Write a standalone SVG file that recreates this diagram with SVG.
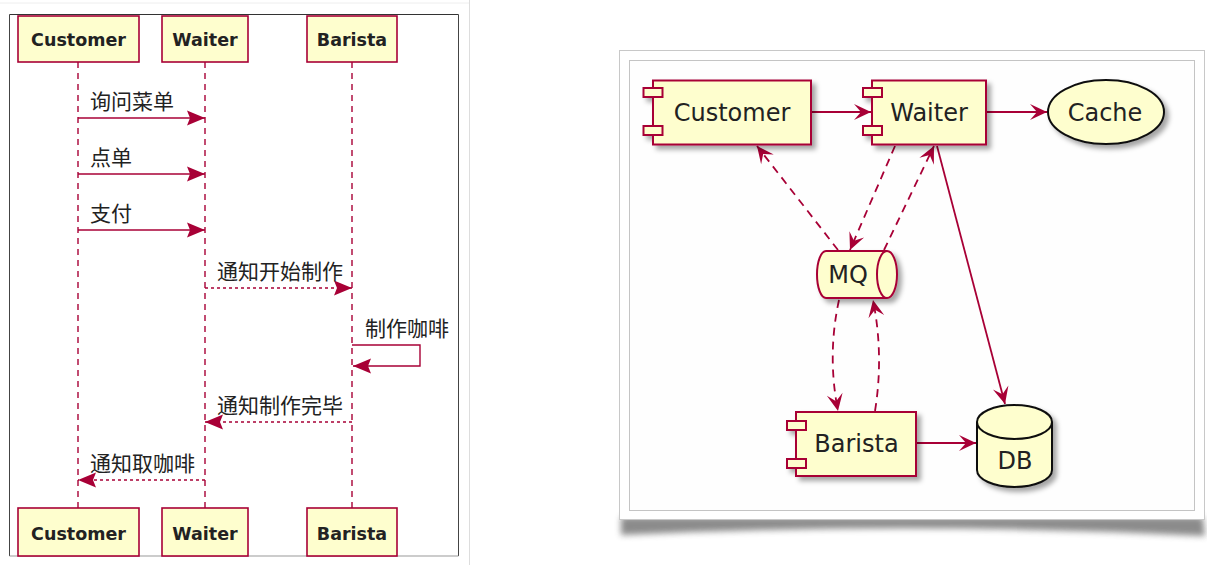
<svg xmlns="http://www.w3.org/2000/svg" width="1207" height="565" viewBox="0 0 1207 565">
  <defs>
    <style>
      .part { fill: #FEFECE; stroke: #A80036; stroke-width: 1.6; }
      .plabel { font-family: "DejaVu Sans", "Liberation Sans", sans-serif; font-weight: bold; font-size: 17.5px; fill: #222; text-anchor: middle; }
      .life { stroke: #A80036; stroke-width: 1.4; stroke-dasharray: 6 5; fill: none; }
      .msg { stroke: #A80036; stroke-width: 1.4; fill: none; }
      .msg.dash { stroke-dasharray: 3 3; }
      .mlabel { font-family: "Noto Sans CJK SC", "Noto Sans CJK JP", sans-serif; font-size: 21px; fill: #222; }
      .comp { fill: #FEFECE; stroke: #A80036; stroke-width: 2; }
      .blk { fill: #FEFECE; stroke: #111; stroke-width: 2; }
      .nlabel { font-family: "DejaVu Sans", "Liberation Sans", sans-serif; font-size: 24px; fill: #222; text-anchor: middle; }
      .edge { stroke: #A80036; stroke-width: 1.8; fill: none; }
      .edge.dash { stroke-dasharray: 8 6; }
    </style>
    <marker id="seqHead" viewBox="-19 -9 20 18" refX="0" refY="0" markerWidth="20" markerHeight="18" markerUnits="userSpaceOnUse" orient="auto">
      <path d="M0,0 L-18,-7.5 L-15,0 L-18,7.5 Z" fill="#A80036"/>
    </marker>
    <marker id="compHead" viewBox="-18 -9 19 18" refX="0" refY="0" markerWidth="19" markerHeight="18" markerUnits="userSpaceOnUse" orient="auto">
      <path d="M0,0 L-17,-8 L-10,0 L-17,8 Z" fill="#A80036"/>
    </marker>
    <filter id="shadow" x="-20%" y="-20%" width="150%" height="160%">
      <feDropShadow dx="4" dy="4" stdDeviation="2.5" flood-color="#000" flood-opacity="0.35"/>
    </filter>
    <filter id="blur" x="-10%" y="-100%" width="120%" height="300%">
      <feGaussianBlur stdDeviation="3"/>
    </filter>
  </defs>

  <rect x="0" y="0" width="1207" height="565" fill="#ffffff"/>

  <!-- ===== Left panel: sequence diagram ===== -->
  <g id="left-frame">
    <line x1="0" y1="3" x2="470" y2="3" stroke="#eeeeee" stroke-width="1"/>
    <line x1="469.5" y1="0" x2="469.5" y2="565" stroke="#dddddd" stroke-width="1"/>
    <rect x="9.5" y="14.5" width="449" height="541.5" fill="#ffffff" stroke="none"/>
    <line x1="9.5" y1="14.5" x2="458.5" y2="14.5" stroke="#333" stroke-width="1"/>
    <line x1="9.5" y1="14.5" x2="9.5" y2="556" stroke="#444" stroke-width="1"/>
    <line x1="458.5" y1="14.5" x2="458.5" y2="556" stroke="#444" stroke-width="1"/>
    <line x1="9.5" y1="556" x2="458.5" y2="556" stroke="#999" stroke-width="1"/>
  </g>

  <g id="seq-customer">
    <line class="life" x1="78" y1="62" x2="78" y2="508"/>
    <rect class="part" x="18" y="16" width="121" height="46"/>
    <text class="plabel" x="78.5" y="46">Customer</text>
    <rect class="part" x="18" y="508" width="121" height="48"/>
    <text class="plabel" x="78.5" y="540">Customer</text>
  </g>
  <g id="seq-waiter">
    <line class="life" x1="205" y1="62" x2="205" y2="508"/>
    <rect class="part" x="162" y="16" width="86" height="46"/>
    <text class="plabel" x="205" y="46">Waiter</text>
    <rect class="part" x="162" y="508" width="86" height="48"/>
    <text class="plabel" x="205" y="540">Waiter</text>
  </g>
  <g id="seq-barista">
    <line class="life" x1="352" y1="62" x2="352" y2="508"/>
    <rect class="part" x="307" y="16" width="90" height="46"/>
    <text class="plabel" x="352" y="46">Barista</text>
    <rect class="part" x="307" y="508" width="90" height="48"/>
    <text class="plabel" x="352" y="540">Barista</text>
  </g>

  <g id="seq-messages">
    <line class="msg" x1="78" y1="118" x2="205" y2="118" marker-end="url(#seqHead)"/>
    <text class="mlabel" x="90" y="108.5">询问菜单</text>
    <line class="msg" x1="78" y1="174" x2="205" y2="174" marker-end="url(#seqHead)"/>
    <text class="mlabel" x="90" y="164.5">点单</text>
    <line class="msg" x1="78" y1="230" x2="205" y2="230" marker-end="url(#seqHead)"/>
    <text class="mlabel" x="90" y="220.5">支付</text>
    <line class="msg dash" x1="205" y1="288" x2="352" y2="288" marker-end="url(#seqHead)"/>
    <text class="mlabel" x="217" y="278.5">通知开始制作</text>
    <path class="msg" d="M352,345 H420 V366 H353" marker-end="url(#seqHead)"/>
    <text class="mlabel" x="365" y="335.5">制作咖啡</text>
    <line class="msg dash" x1="352" y1="422" x2="205" y2="422" marker-end="url(#seqHead)"/>
    <text class="mlabel" x="217" y="412.5">通知制作完毕</text>
    <line class="msg dash" x1="205" y1="480" x2="78" y2="480" marker-end="url(#seqHead)"/>
    <text class="mlabel" x="90" y="470.5">通知取咖啡</text>
  </g>

  <!-- ===== Right panel: component diagram ===== -->
  <g id="right-frame">
    <path d="M621,517 L1203,517 L1205,536 Q912,521 621,535 Z" fill="#777" filter="url(#blur)" opacity="0.85"/>
    <rect x="619.5" y="50.5" width="585" height="469" fill="#ffffff" stroke="#c8c8c8" stroke-width="1"/>
    <rect x="629.5" y="60.5" width="565" height="450" fill="#fefefe" stroke="#c4c4c4" stroke-width="1"/>
  </g>

  <g id="connectors">
    <line class="edge" x1="811" y1="112" x2="871" y2="112" marker-end="url(#compHead)"/>
    <line class="edge" x1="986" y1="112" x2="1047" y2="112" marker-end="url(#compHead)"/>
    <line class="edge dash" x1="895" y1="146" x2="850" y2="250" marker-end="url(#compHead)"/>
    <line class="edge dash" x1="884" y1="250" x2="934" y2="146" marker-end="url(#compHead)"/>
    <line class="edge dash" x1="838" y1="250" x2="757" y2="146" marker-end="url(#compHead)"/>
    <path class="edge dash" d="M839,300 Q827,355 838,411" marker-end="url(#compHead)"/>
    <path class="edge dash" d="M875,411 Q884,355 873,300" marker-end="url(#compHead)"/>
    <line class="edge" x1="937" y1="146" x2="1005" y2="404" marker-end="url(#compHead)"/>
    <line class="edge" x1="916" y1="443" x2="976" y2="443" marker-end="url(#compHead)"/>
  </g>

  <g id="node-customer">
    <g filter="url(#shadow)">
      <rect class="comp" x="653" y="80.5" width="158" height="64"/>
      <rect class="comp" x="643.5" y="88" width="19" height="9"/>
      <rect class="comp" x="643.5" y="126" width="19" height="9"/>
    </g>
    <text class="nlabel" x="732" y="120.5">Customer</text>
  </g>

  <g id="node-waiter">
    <g filter="url(#shadow)">
      <rect class="comp" x="872" y="80.5" width="114" height="64"/>
      <rect class="comp" x="863" y="88" width="19" height="9"/>
      <rect class="comp" x="863" y="126" width="19" height="9"/>
    </g>
    <text class="nlabel" x="929" y="120.5">Waiter</text>
  </g>

  <g id="node-cache">
    <ellipse class="blk" cx="1106" cy="112" rx="58" ry="32" filter="url(#shadow)"/>
    <text class="nlabel" x="1105" y="120.5">Cache</text>
  </g>

  <g id="node-mq">
    <g filter="url(#shadow)">
      <path class="comp" d="M826,251 L887,251 A10,23.5 0 0 1 887,298 L826,298 A9,23.5 0 0 1 826,251 Z"/>
      <path class="comp" d="M887,251 A10,23.5 0 0 0 887,298" fill="none"/>
    </g>
    <text class="nlabel" x="848" y="283">MQ</text>
  </g>

  <g id="node-barista">
    <g filter="url(#shadow)">
      <rect class="comp" x="796" y="412" width="120" height="64"/>
      <rect class="comp" x="787" y="421" width="19" height="9"/>
      <rect class="comp" x="787" y="459" width="19" height="9"/>
    </g>
    <text class="nlabel" x="856.5" y="452">Barista</text>
  </g>

  <g id="node-db">
    <g filter="url(#shadow)">
      <path class="blk" d="M977,422 A37.5,17 0 0 1 1052,422 L1052,470 A37.5,17 0 0 1 977,470 Z"/>
      <path class="blk" d="M977,422 A37.5,17 0 0 0 1052,422" fill="none"/>
    </g>
    <text class="nlabel" x="1015" y="469">DB</text>
  </g>
</svg>
